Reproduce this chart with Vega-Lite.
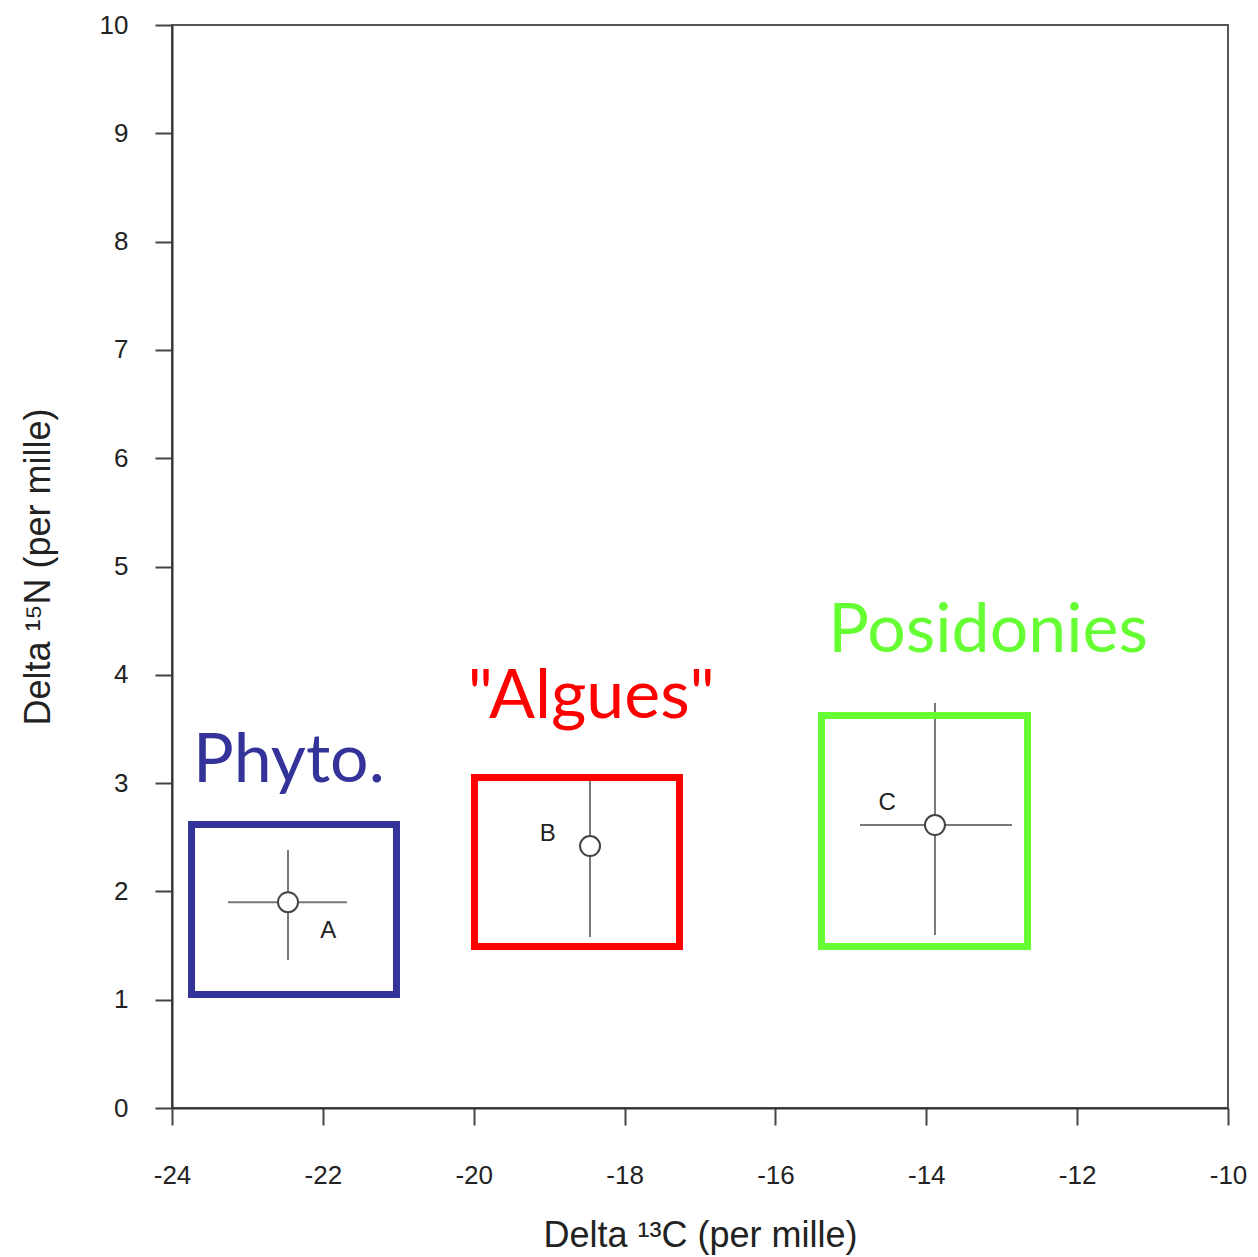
{
  "$schema": "https://vega.github.io/schema/vega-lite/v6.json",
  "width": 1056,
  "height": 1083,
  "autosize": "none",
  "padding": {"left": 172, "top": 25, "right": 30, "bottom": 149},
  "background": "white",
  "config": {
    "view": {"stroke": "#555555", "strokeWidth": 2},
    "axis": {
      "grid": false,
      "domainColor": "#333333",
      "domainWidth": 2,
      "tickColor": "#444444",
      "tickWidth": 2,
      "tickSize": 17,
      "labelFont": "Liberation Sans Narrow, Liberation Sans",
      "labelFontSize": 26,
      "labelColor": "#222222",
      "titleFont": "Liberation Sans Narrow, Liberation Sans",
      "titleFontSize": 36,
      "titleFontWeight": "normal",
      "titleColor": "#222222"
    }
  },
  "datasets": {
    "groups": [
      {"group": "Phyto.", "bx1": -23.741, "bx2": -21.024, "by1": 1.048, "by2": 2.618, "lx": -23.72, "ly": 3.01},
      {"group": "\"Algues\"", "bx1": -19.99, "bx2": -17.272, "by1": 1.491, "by2": 3.052, "lx": -20.08, "ly": 3.6},
      {"group": "Posidonies", "bx1": -15.389, "bx2": -12.658, "by1": 1.491, "by2": 3.624, "lx": -15.3, "ly": 4.21}
    ],
    "points": [
      {"id": "A", "x": -22.462, "y": 1.9, "xlo": -23.258, "xhi": -21.68, "ylo": 1.367, "yhi": 2.382, "tx": -21.93, "ty": 1.63},
      {"id": "B", "x": -18.458, "y": 2.419, "xlo": -18.458, "xhi": -18.458, "ylo": 1.579, "yhi": 3.029, "tx": -19.02, "ty": 2.53},
      {"id": "C", "x": -13.885, "y": 2.613, "xlo": -14.879, "xhi": -12.864, "ylo": 1.597, "yhi": 3.74, "tx": -14.52, "ty": 2.82}
    ]
  },
  "layer": [
    {
      "data": {"name": "points"},
      "mark": {"type": "rule", "color": "#777777", "strokeWidth": 2},
      "encoding": {
        "x": {"field": "xlo", "type": "quantitative", "scale": {"domain": [-24, -10], "nice": false, "zero": false},
          "axis": {"values": [-24, -22, -20, -18, -16, -14, -12, -10], "labelPadding": 37, "titlePadding": 30, "labelFlush": false,
            "labelExpr": "datum.value < 0 ? '-' + abs(datum.value) : '' + datum.value"},
          "title": "Delta ¹³C (per mille)"},
        "x2": {"field": "xhi"},
        "y": {"field": "y", "type": "quantitative", "scale": {"domain": [0, 10], "nice": false, "zero": false},
          "axis": {"values": [0, 1, 2, 3, 4, 5, 6, 7, 8, 9, 10], "labelPadding": 27, "titlePadding": 42, "labelFlush": false,
            "labelExpr": "'' + datum.value"},
          "title": "Delta ¹⁵N (per mille)"}
      }
    },
    {
      "data": {"name": "points"},
      "mark": {"type": "rule", "color": "#777777", "strokeWidth": 2},
      "encoding": {
        "x": {"field": "x", "type": "quantitative"},
        "y": {"field": "ylo", "type": "quantitative"},
        "y2": {"field": "yhi"}
      }
    },
    {
      "data": {"name": "points"},
      "mark": {"type": "point", "shape": "circle", "filled": false, "fill": "white", "fillOpacity": 1, "stroke": "#444444", "strokeWidth": 2, "size": 400, "opacity": 1},
      "encoding": {
        "x": {"field": "x", "type": "quantitative"},
        "y": {"field": "y", "type": "quantitative"}
      }
    },
    {
      "data": {"name": "points"},
      "mark": {"type": "text", "font": "Liberation Sans", "fontSize": 24, "color": "#222222", "align": "center", "baseline": "middle"},
      "encoding": {
        "x": {"field": "tx", "type": "quantitative"},
        "y": {"field": "ty", "type": "quantitative"},
        "text": {"field": "id"}
      }
    },
    {
      "data": {"name": "groups"},
      "mark": {"type": "rect", "filled": false, "strokeWidth": 7},
      "encoding": {
        "x": {"field": "bx1", "type": "quantitative"},
        "x2": {"field": "bx2"},
        "y": {"field": "by1", "type": "quantitative"},
        "y2": {"field": "by2"},
        "stroke": {"field": "group", "type": "nominal", "scale": {"domain": ["Phyto.", "\"Algues\"", "Posidonies"], "range": ["#333399", "#ff0000", "#66ff33"]}, "legend": null}
      }
    },
    {
      "data": {"name": "groups"},
      "mark": {"type": "text", "font": "Lato", "fontSize": 68, "align": "left", "baseline": "alphabetic"},
      "encoding": {
        "x": {"field": "lx", "type": "quantitative"},
        "y": {"field": "ly", "type": "quantitative"},
        "text": {"field": "group"},
        "fill": {"field": "group", "type": "nominal", "scale": {"domain": ["Phyto.", "\"Algues\"", "Posidonies"], "range": ["#333399", "#ff0000", "#66ff33"]}, "legend": null}
      }
    }
  ]
}
